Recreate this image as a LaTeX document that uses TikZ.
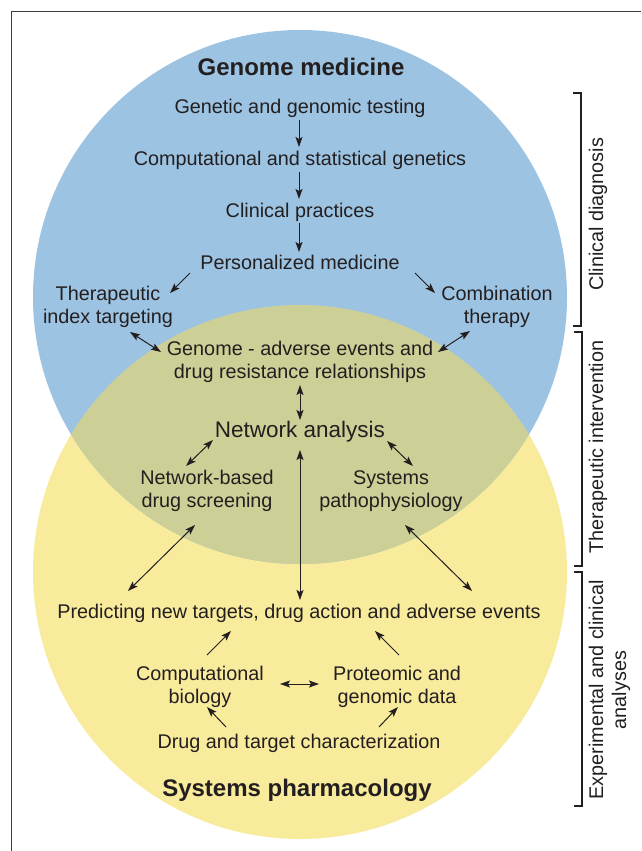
\documentclass[tikz,border=0pt]{standalone}
\usepackage{fontspec}
\setmainfont{Liberation Sans}
\usetikzlibrary{arrows.meta}
\definecolor{gmblue}{RGB}{157,195,226}
\definecolor{spyellow}{RGB}{249,235,156}
\definecolor{lensolive}{RGB}{205,208,150}
\definecolor{ink}{RGB}{35,31,32}
\definecolor{framegray}{RGB}{60,60,60}
\newcommand\twol[1]{\begin{tabular}[t]{@{}c@{}}#1\end{tabular}}
\newcommand\bodyfont{\fontsize{19.8}{23}\selectfont}
\tikzset{
  txt/.style={inner sep=0pt, anchor=base, text=ink, font=\bodyfont},
  titletxt/.style={inner sep=0pt, anchor=base, text=ink, font=\fontsize{24}{28}\selectfont\bfseries},
  nettxt/.style={inner sep=0pt, anchor=base, text=ink, font=\fontsize{22.5}{26}\selectfont},
  sidetxt/.style={inner sep=0pt, anchor=base, text=ink, font=\bodyfont, rotate=90},
  arr/.style={draw=ink, line width=1pt, -{Stealth[length=10pt,width=7pt,inset=2pt]}},
  darr/.style={draw=ink, line width=1pt, {Stealth[length=10pt,width=7pt,inset=2pt]}-{Stealth[length=10pt,width=7pt,inset=2pt]}},
  bracket/.style={draw=ink, line width=1.1pt},
}
\begin{document}
\begin{tikzpicture}[x=1pt,y=-1pt]
\useasboundingbox (0,0) rectangle (641,851);
\fill[white] (0,0) rectangle (641,851);
% frame
\draw[framegray, line width=1pt] (11,851) -- (11,12) -- (641,12);
% circles
\fill[spyellow] (300,572) circle[radius=267pt];
\fill[gmblue] (300,297) circle[radius=267pt];
\begin{scope}
  \clip (300,297) circle[radius=267pt];
  \fill[lensolive] (300,572) circle[radius=267pt];
\end{scope}
% brackets
\draw[bracket] (573,93) -- (581,93) -- (581,326) -- (573,326);
\draw[bracket] (574,332) -- (582,332) -- (582,566) -- (574,566);
\draw[bracket] (574,572) -- (582,572) -- (582,806) -- (574,806);
% side labels
\node[sidetxt] (lcd) at (603,214.5) {Clinical diagnosis};
\node[sidetxt] (lti) at (603,447) {Therapeutic intervention};
\node[sidetxt] (lea) at (603,690) {\twol{Experimental and clinical\\analyses}};
% text nodes
\node[titletxt] (gm) at (301,76) {Genome medicine};
\node[txt] (gen) at (300,113) {Genetic and genomic testing};
\node[txt] (comp) at (300,165) {Computational and statistical genetics};
\node[txt] (clin) at (300,217) {Clinical practices};
\node[txt] (pers) at (300,269) {Personalized medicine};
\node[txt] (ther) at (108,300) {\twol{Therapeutic\\index targeting}};
\node[txt] (comb) at (497,300) {\twol{Combination\\therapy}};
\node[txt] (gadv) at (300,355) {\twol{Genome - adverse events and\\drug resistance relationships}};
\node[nettxt] (net) at (300,437) {Network analysis};
\node[txt] (nbs) at (207,484) {\twol{Network-based\\drug screening}};
\node[txt] (sys) at (391,484) {\twol{Systems\\pathophysiology}};
\node[txt] (pred) at (299,618) {Predicting new targets, drug action and adverse events};
\node[txt] (cbio) at (200,680) {\twol{Computational\\biology}};
\node[txt] (prot) at (397,680) {\twol{Proteomic and\\genomic data}};
\node[txt] (dtc) at (299,748) {Drug and target characterization};
\node[titletxt] (sp) at (297,796) {Systems pharmacology};
% connectors
\draw[arr] ([xshift=-1pt,yshift=-7pt]gen.base) -- ([xshift=-1pt,yshift=18pt]comp.base);
\draw[arr] ([xshift=-1pt,yshift=-7pt]comp.base) -- ([xshift=-1pt,yshift=18pt]clin.base);
\draw[arr] ([xshift=-1pt,yshift=-6pt]clin.base) -- ([xshift=-1pt,yshift=17pt]pers.base);
\draw[arr] ([xshift=-110pt,yshift=-4pt]pers.base) -- ([xshift=62pt,yshift=7pt]ther.base);
\draw[arr] ([xshift=115pt,yshift=-4pt]pers.base) -- ([xshift=-62pt,yshift=7pt]comb.base);
\draw[darr] ([xshift=22pt,yshift=-32pt]ther.base) -- ([xshift=-139pt,yshift=3pt]gadv.base);
\draw[darr] ([xshift=-27pt,yshift=-31pt]comb.base) -- ([xshift=138pt,yshift=3pt]gadv.base);
\draw[darr] ([yshift=-30pt]gadv.base) -- ([yshift=17pt]net.base);
\draw[darr] ([xshift=-87pt,yshift=-3pt]net.base) -- ([xshift=-21pt,yshift=18pt]nbs.base);
\draw[darr] ([xshift=87pt,yshift=-4pt]net.base) -- ([xshift=22pt,yshift=18pt]sys.base);
\draw[darr] ([yshift=-13pt]net.base) -- ([xshift=1pt,yshift=18pt]pred.base);
\draw[darr] ([xshift=-12pt,yshift=-41pt]nbs.base) -- ([xshift=-171pt,yshift=27pt]pred.base);
\draw[darr] ([xshift=14pt,yshift=-41pt]sys.base) -- ([xshift=173pt,yshift=27pt]pred.base);
\draw[arr] ([xshift=7pt,yshift=25pt]cbio.base) -- ([xshift=-68pt,yshift=-13pt]pred.base);
\draw[arr] ([xshift=2pt,yshift=25pt]prot.base) -- ([xshift=76pt,yshift=-13pt]pred.base);
\draw[darr] ([xshift=80pt,yshift=-4pt]cbio.base) -- ([xshift=-78pt,yshift=-4pt]prot.base);
\draw[arr] ([xshift=-73pt,yshift=21pt]dtc.base) -- ([xshift=7pt,yshift=-27pt]cbio.base);
\draw[arr] ([xshift=80pt,yshift=21pt]dtc.base) -- ([xshift=1pt,yshift=-27pt]prot.base);
\end{tikzpicture}
\end{document}
